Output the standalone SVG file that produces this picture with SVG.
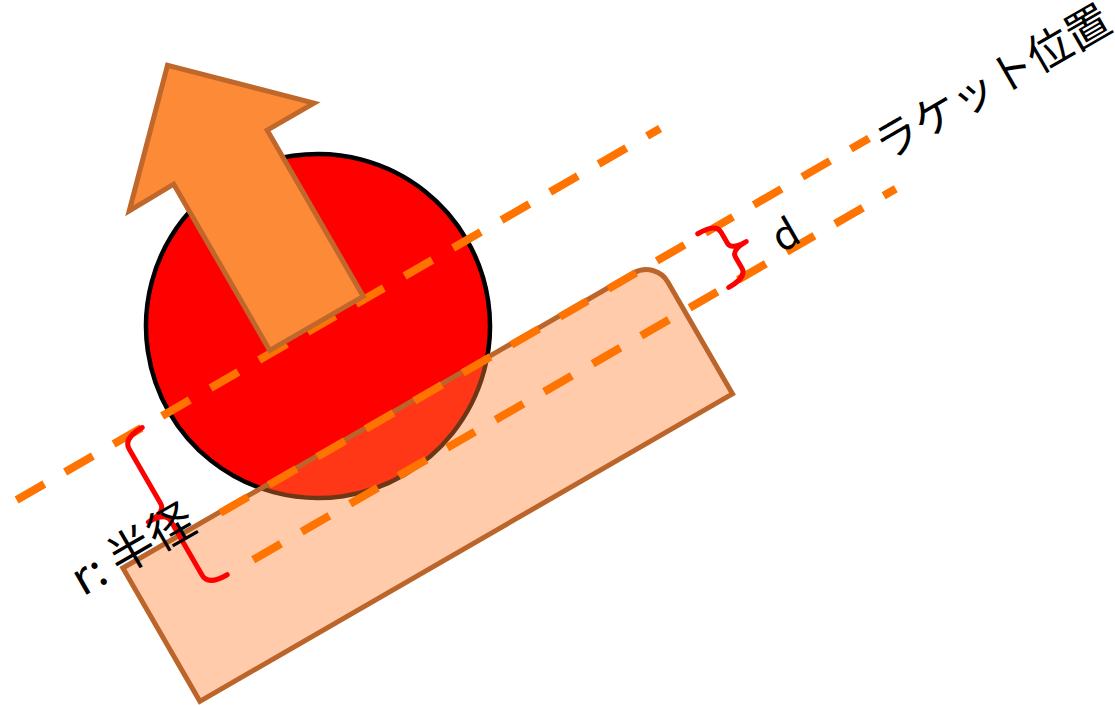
<svg xmlns="http://www.w3.org/2000/svg" width="1115" height="707" viewBox="0 0 1115 707">
<style>
.dash{stroke:#ff7300;stroke-width:8;stroke-dasharray:32 24;fill:none}
.brace{stroke:#ff0000;stroke-width:5;fill:none;stroke-linecap:round;stroke-linejoin:round}
.lbl{font-family:"Noto Sans CJK JP","Noto Sans",sans-serif;fill:#000}
</style>
<rect width="1115" height="707" fill="#fff"/>
<g transform="translate(318,326) rotate(-30)">
  <g id="ball"><circle cx="0" cy="0" r="172" fill="#ff0000" stroke="#000" stroke-width="4.5"/></g>
  <g id="racket"><path d="M -290 112 L 300 112 A 25 25 0 0 1 325 137 L 325 266 L -290 266 Z" fill="#ff8438" fill-opacity="0.42" stroke="#bc652b" stroke-width="5"/></g>
  <g id="connectors">
    <line class="dash" x1="-348" y1="0" x2="395" y2="0"/>
    <line class="dash" x1="-178" y1="113" x2="571" y2="113"/>
    <line class="dash" x1="-173" y1="170" x2="569" y2="170"/>
  </g>
  <g id="arrow"><polygon points="-54,-3 54,-3 54,-195 108,-195 0,-301 -106,-194 -54,-195" fill="#fd8a37" stroke="#c0672b" stroke-width="5" stroke-linejoin="miter"/></g>
  <g id="brace-r"><path class="brace" d="M -203 0 Q -225 0 -225 12 L -225 75 Q -225 85 -245 85 Q -225 85 -225 95 L -225 158 Q -225 170 -203 170"/></g>
  <g id="brace-d"><path class="brace" d="M 375 110 Q 396 110 396 120 L 396 133 Q 396 141 413 141 Q 396 141 396 149 L 396 162 Q 396 172 375 172"/></g>
  <g id="label-r"><text class="lbl" x="-339" y="117" font-size="46">r: 半径</text></g>
  <g id="label-d"><text class="lbl" x="438" y="169" font-size="40">d</text></g>
  <g id="label-racket"><text class="lbl" x="574" y="142" font-size="44">ラケット位置</text></g>
</g>
</svg>
